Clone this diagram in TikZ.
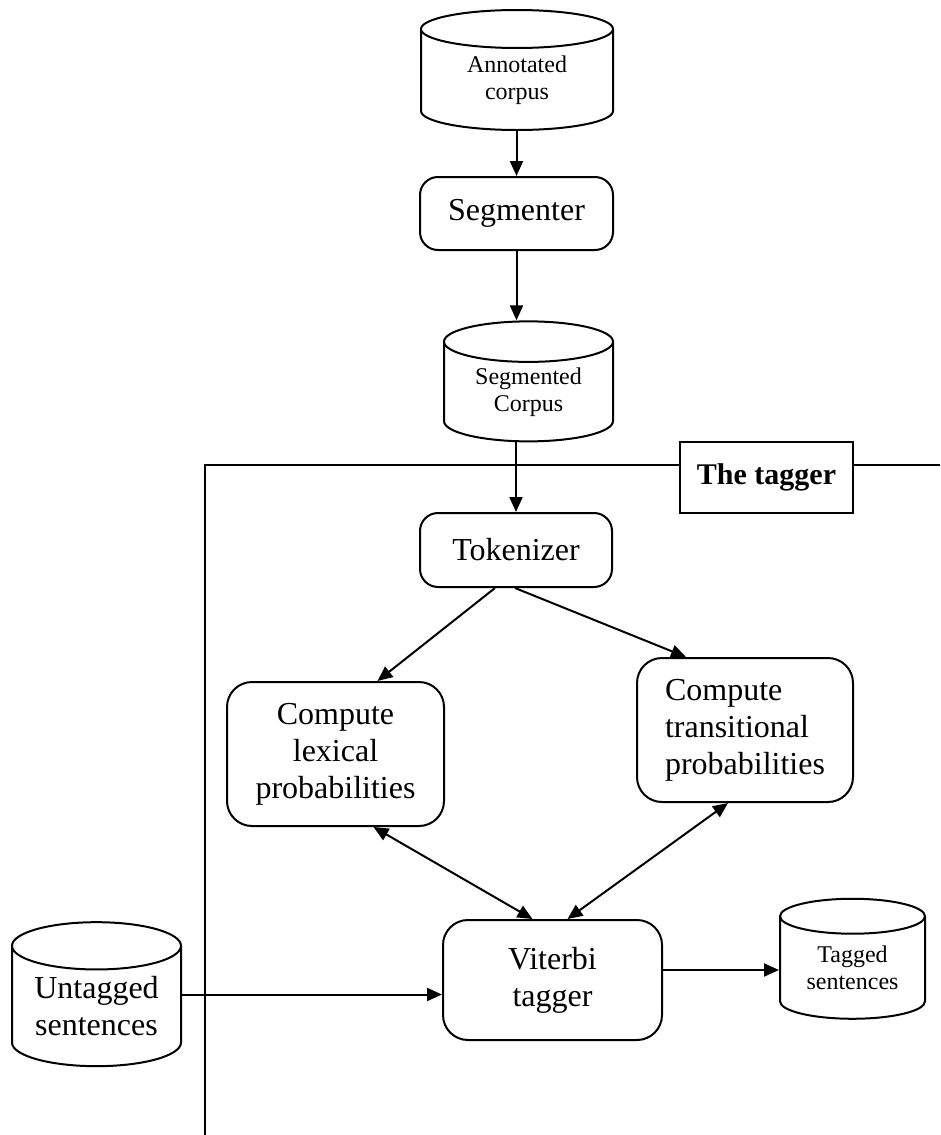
\documentclass[tikz,border=0pt]{standalone}
\usepackage{fontspec}
\setmainfont{Liberation Serif}
\usetikzlibrary{shapes.geometric,arrows.meta}

\newcommand\boxfont{\fontsize{32}{37}\selectfont}
\newcommand\dbfont{\fontsize{24}{27}\selectfont}

\begin{document}
\begin{tikzpicture}[x=1pt, y=-1pt,
    store/.style={cylinder, shape border rotate=90, draw, line width=2pt,
        aspect=0.38, inner sep=0pt, align=center},
    proc/.style={rectangle, rounded corners=18pt, draw, line width=2pt,
        inner sep=0pt, align=center, font=\boxfont},
    bigproc/.style={proc, rounded corners=25pt},
    flow/.style={-{Triangle[length=15pt,width=13pt]}, line width=2pt},
    twoway/.style={{Triangle[length=15pt,width=13pt]}-{Triangle[length=15pt,width=13pt]}, line width=2pt}]
    \useasboundingbox (0,0) rectangle (940,1135);

    % data stores
    \node[store, font=\dbfont, minimum width=192pt, minimum height=120pt] (annot) at (517, 80) {Annotated\\corpus};
    \node[store, font=\dbfont, minimum width=169pt, minimum height=120pt] (segmented) at (528.5, 392) {Segmented\\Corpus};
    \node[store, font=\boxfont, minimum width=169pt, minimum height=144pt] (untagged) at (96.5, 1006.5) {Untagged\\sentences};
    \node[store, font=\dbfont, minimum width=145pt, minimum height=120pt] (tagged) at (852.5, 968) {Tagged\\sentences};

    % processing steps
    \node[proc, minimum width=193pt, minimum height=73pt] (segmenter) at (516.5, 213.5) {Segmenter};
    \node[proc, minimum width=192pt, minimum height=74pt] (tokenizer) at (516, 550) {Tokenizer};
    \node[bigproc, minimum width=217pt, minimum height=144pt] (lexical) at (335.5, 754) {Compute\\lexical\\probabilities};
    \node[bigproc, minimum width=216pt, minimum height=144pt, align=left] (transitional) at (745, 730) {Compute\\transitional\\probabilities};
    \node[bigproc, minimum width=219pt, minimum height=120pt] (viterbi) at (552.5, 980) {Viterbi\\tagger};

    % tagger frame
    \node[draw, line width=2pt, minimum width=173pt, minimum height=71pt, inner sep=0pt,
        font=\fontsize{30}{34}\selectfont\bfseries] (tagger) at (766.5, 477.5) {The tagger};
    \coordinate (frameR) at (940, 465);
    \coordinate (frameB) at (205, 1135);
    \draw[line width=2pt] (frameB) |- (tagger.west |- frameR);
    \draw[line width=2pt] (tagger.east |- frameR) -- (frameR);

    % connectors
    \draw[flow] (segmenter.north |- annot.south) -- (segmenter.north);
    \draw[flow] (segmenter.south) -- (segmenter.south |- segmented.north);
    \draw[flow] (tokenizer.north |- segmented.south) -- (tokenizer.north);
    \draw[flow] ([xshift=-21pt]tokenizer.south) -- ([xshift=42pt]lexical.north);
    \draw[flow] ([xshift=-1pt]tokenizer.south) -- ([xshift=-59pt]transitional.north);
    \draw[twoway] ([xshift=38pt]lexical.south) -- ([xshift=-20pt]viterbi.north);
    \draw[twoway] ([xshift=-17pt]transitional.south) -- ([xshift=15pt]viterbi.north);
    \draw[flow] ([yshift=12pt]untagged.east) -- ([yshift=12pt]untagged.east -| viterbi.west);
    \draw[flow] ([yshift=10pt]viterbi.east) -- ([yshift=10pt]viterbi.east -| tagged.west);
\end{tikzpicture}
\end{document}
